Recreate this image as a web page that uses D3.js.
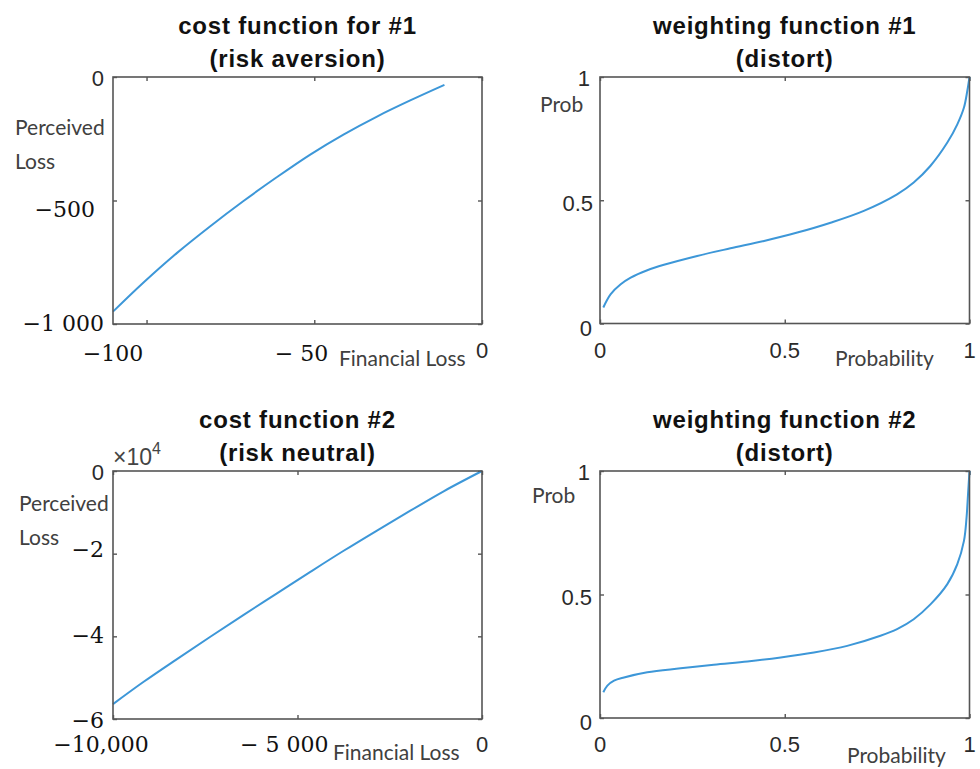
<!DOCTYPE html>
<html>
<head>
<meta charset="utf-8">
<script src="https://cdn.jsdelivr.net/npm/d3@7"></script>
<style>
  html, body { margin: 0; padding: 0; background: #fff; }
  svg { display: block; }
</style>
</head>
<body>
<svg id="chart" width="980" height="769"></svg>
<script>
// ---------------- data ----------------
const cost1X = [-110, -100.9, -90.9, -81.0, -71.1, -61.1, -51.2, -41.3, -31.3, -21.4, -11.2];
const cost1Y = [-950, -832, -712, -604, -502, -405, -314, -233, -160, -95, -32];

const weight1X = [0.009, 0.029, 0.056, 0.083, 0.128, 0.173, 0.263, 0.353, 0.444, 0.534, 0.624, 0.714, 0.804, 0.849, 0.894, 0.940, 0.967, 0.985, 0.994, 1.0];
const weight1Y = [0.065, 0.119, 0.159, 0.186, 0.216, 0.238, 0.274, 0.305, 0.335, 0.369, 0.409, 0.457, 0.524, 0.572, 0.639, 0.734, 0.808, 0.876, 0.943, 1.0];

const cost2X = [-10000, -9169, -8266, -7362, -6459, -5556, -4652, -3749, -2846, -1942, -1039, 0];
const cost2Y = [-56400, -51000, -45500, -40100, -34800, -29600, -24400, -19300, -14400, -9600, -4900, 0];

const weight2X = [0.009, 0.020, 0.038, 0.065, 0.128, 0.218, 0.308, 0.399, 0.489, 0.579, 0.669, 0.759, 0.804, 0.849, 0.895, 0.940, 0.967, 0.985, 0.992, 0.996, 1.0];
const weight2Y = [0.104, 0.131, 0.151, 0.164, 0.185, 0.201, 0.216, 0.229, 0.245, 0.265, 0.292, 0.333, 0.360, 0.400, 0.461, 0.542, 0.623, 0.717, 0.811, 0.906, 1.0];

// titles
const titles1 = ["cost function for #1", "(risk aversion)"];
const titles2 = ["weighting function #1", "(distort)"];
const titles3 = ["cost function #2", "(risk neutral)"];
const titles4 = ["weighting function #2", "(distort)"];

// tick values (marks) and tick labels
const cost1XTicks = [-100, -50, 0];
const cost1YTicks = [-1000, -500, 0];
const cost1XLabelVals = [-110, -50, 0];
const cost1XLabels = ["\u2212100", "\u2212 50", "0"];
const cost1YLabelVals = [0, -500, -1000];
const cost1YLabels = ["0", "\u2212500", "\u22121 000"];

const probTicks = [0, 0.5, 1];
const probXLabelVals = [0, 0.5, 1];
const probXLabels = ["0", "0.5", "1"];
const probYLabelVals = [1, 0.5, 0];
const probYLabels = ["1", "0.5", "0"];

const cost2XTicks = [-10000, -5000, 0];
const cost2YTicks = [-60000, -40000, -20000, 0];
const cost2XLabelVals = [-10000, -5000, 0];
const cost2XLabels = ["\u221210,000", "\u2212 5 000", "0"];
const cost2YLabelVals = [0, -20000, -40000, -60000];
const cost2YLabels = ["0", "\u22122", "\u22124", "\u22126"];

// ---------------- drawing ----------------
const svg = d3.select("#chart");
const LINE = "#3d97d8";
const BOX = "#555555";
const SERIF = "'DejaVu Serif', serif";
const SANS = "'Liberation Sans', Arial, sans-serif";
const LABEL = "Lato, 'Open Sans', sans-serif";

function panel(cfg) {
  const x = d3.scaleLinear().domain(cfg.xDomain).range([cfg.left, cfg.right]);
  const y = d3.scaleLinear().domain(cfg.yDomain).range([cfg.bottom, cfg.top]);
  const g = svg.append("g");

  // inward tick marks on all four sides
  const tl = 4;
  const ax = [
    d3.axisBottom(x).tickValues(cfg.xTicks).tickSize(tl).tickFormat(""),
    d3.axisTop(x).tickValues(cfg.xTicks).tickSize(tl).tickFormat(""),
    d3.axisLeft(y).tickValues(cfg.yTicks).tickSize(tl).tickFormat(""),
    d3.axisRight(y).tickValues(cfg.yTicks).tickSize(tl).tickFormat("")
  ];
  const pos = [
    `translate(0,${cfg.bottom}) scale(1,-1)`,
    `translate(0,${cfg.top}) scale(1,-1)`,
    `translate(${cfg.left},0) scale(-1,1)`,
    `translate(${cfg.right},0) scale(-1,1)`
  ];
  ax.forEach((a, i) => {
    const ag = g.append("g").attr("transform", pos[i]).call(a);
    ag.select(".domain").remove();
    ag.selectAll(".tick line").attr("stroke", BOX).attr("stroke-width", 1.4);
  });

  // curve
  const pts = cfg.xs.map((v, i) => [v, cfg.ys[i]]);
  g.append("path")
    .datum(pts)
    .attr("fill", "none")
    .attr("stroke", LINE)
    .attr("stroke-width", 2)
    .attr("stroke-linejoin", "round")
    .attr("d", d3.line().x(d => x(d[0])).y(d => y(d[1])).curve(d3.curveCatmullRom.alpha(0.5)));

  // box
  g.append("rect")
    .attr("x", cfg.left).attr("y", cfg.top)
    .attr("width", cfg.right - cfg.left).attr("height", cfg.bottom - cfg.top)
    .attr("fill", "none").attr("stroke", BOX).attr("stroke-width", 1.6);

  // titles
  const cx = (cfg.left + cfg.right) / 2;
  cfg.titles.forEach((t, i) => {
    g.append("text").text(t)
      .attr("x", cx).attr("y", cfg.titleY[i])
      .attr("text-anchor", "middle")
      .style("font-family", SANS).style("font-weight", "bold")
      .style("font-size", "24px").style("letter-spacing", "0.8px")
      .attr("fill", "#111");
  });

  // x tick labels
  cfg.xLabelVals.forEach((v, i) => {
    const t = cfg.xLabels[i];
    const isZeroSans = cfg.serif && t === "0";
    g.append("text").text(t)
      .attr("x", x(v) + cfg.xLabelDx[i])
      .attr("y", cfg.bottom + cfg.xLabelDy[i])
      .attr("text-anchor", cfg.xLabelAnchor[i])
      .style("font-family", (cfg.serif && !isZeroSans) ? SERIF : SANS)
      .style("font-size", "22px")
      .attr("fill", (cfg.serif && !isZeroSans) ? "#111" : "#2a2a2a");
  });

  // y tick labels
  cfg.yLabelVals.forEach((v, i) => {
    const t = cfg.yLabels[i];
    const isZeroSans = cfg.serif && t === "0";
    g.append("text").text(t)
      .attr("x", cfg.left + cfg.yLabelDx[i])
      .attr("y", y(v) + cfg.yLabelDy[i])
      .attr("text-anchor", "end")
      .style("font-family", (cfg.serif && !isZeroSans) ? SERIF : SANS)
      .style("font-size", "22px")
      .attr("fill", (cfg.serif && !isZeroSans) ? "#111" : "#2a2a2a");
  });

  // axis labels
  cfg.axisLabels.forEach(a => {
    g.append("text").text(a.text)
      .attr("x", a.x).attr("y", a.y)
      .style("font-family", LABEL).style("font-size", "21px")
      .attr("fill", "#404040");
  });

  return { x, y, g };
}

// Panel 1: cost function #1
panel({
  left: 113, right: 482, top: 77, bottom: 324,
  xDomain: [-110, 0], yDomain: [-1000, 0],
  xTicks: cost1XTicks, yTicks: cost1YTicks,
  xs: cost1X, ys: cost1Y,
  titles: titles1, titleY: [34, 67],
  serif: true,
  xLabelVals: cost1XLabelVals, xLabels: cost1XLabels,
  xLabelDx: [0, 14, 0], xLabelDy: [37, 37, 34], xLabelAnchor: ["middle", "end", "middle"],
  yLabelVals: cost1YLabelVals, yLabels: cost1YLabels,
  yLabelDx: [-9, -18, -9], yLabelDy: [9, 16.5, 7],
  axisLabels: [
    { text: "Perceived", x: 15, y: 135 },
    { text: "Loss", x: 15, y: 169 },
    { text: "Financial Loss", x: 339, y: 366 }
  ]
});

// Panel 2: weighting function #1
panel({
  left: 600, right: 969.5, top: 77, bottom: 323.5,
  xDomain: [0, 1], yDomain: [0, 1],
  xTicks: probTicks, yTicks: probTicks,
  xs: weight1X, ys: weight1Y,
  titles: titles2, titleY: [34, 67],
  serif: false,
  xLabelVals: probXLabelVals, xLabels: probXLabels,
  xLabelDx: [0, 0, 0], xLabelDy: [34, 34, 34], xLabelAnchor: ["middle", "middle", "middle"],
  yLabelVals: probYLabelVals, yLabels: probYLabels,
  yLabelDx: [-10, -7, -8], yLabelDy: [9, 10.5, 12.5],
  axisLabels: [
    { text: "Prob", x: 540, y: 112 },
    { text: "Probability", x: 835, y: 366 }
  ]
});

// Panel 3: cost function #2
const p3 = panel({
  left: 113, right: 482, top: 471, bottom: 719,
  xDomain: [-10000, 0], yDomain: [-60000, 0],
  xTicks: cost2XTicks, yTicks: cost2YTicks,
  xs: cost2X, ys: cost2Y,
  titles: titles3, titleY: [428, 461],
  serif: true,
  xLabelVals: cost2XLabelVals, xLabels: cost2XLabels,
  xLabelDx: [-12, 31, 0], xLabelDy: [33, 33, 33], xLabelAnchor: ["middle", "end", "middle"],
  yLabelVals: cost2YLabelVals, yLabels: cost2YLabels,
  yLabelDx: [-9, -9, -9, -9], yLabelDy: [9, 3.5, 6.5, 9],
  axisLabels: [
    { text: "Perceived", x: 19, y: 511 },
    { text: "Loss", x: 19, y: 545 },
    { text: "Financial Loss", x: 333, y: 760 }
  ]
});
// exponent marker
const expo = p3.g.append("text").attr("x", 113).attr("y", 465)
  .style("font-family", SANS).style("font-size", "23px").attr("fill", "#444");
expo.append("tspan").text("\u00d710");
expo.append("tspan").text("4").attr("dy", -11).style("font-size", "16px");

// Panel 4: weighting function #2
panel({
  left: 600, right: 969.5, top: 471, bottom: 718,
  xDomain: [0, 1], yDomain: [0, 1],
  xTicks: probTicks, yTicks: probTicks,
  xs: weight2X, ys: weight2Y,
  titles: titles4, titleY: [428, 461],
  serif: false,
  xLabelVals: probXLabelVals, xLabels: probXLabels,
  xLabelDx: [0, 0, 0], xLabelDy: [34, 34, 34], xLabelAnchor: ["middle", "middle", "middle"],
  yLabelVals: probYLabelVals, yLabels: probYLabels,
  yLabelDx: [-10, -8, -8], yLabelDy: [9, 10.5, 12],
  axisLabels: [
    { text: "Prob", x: 532, y: 503 },
    { text: "Probability", x: 847, y: 763 }
  ]
});
</script>
</body>
</html>
